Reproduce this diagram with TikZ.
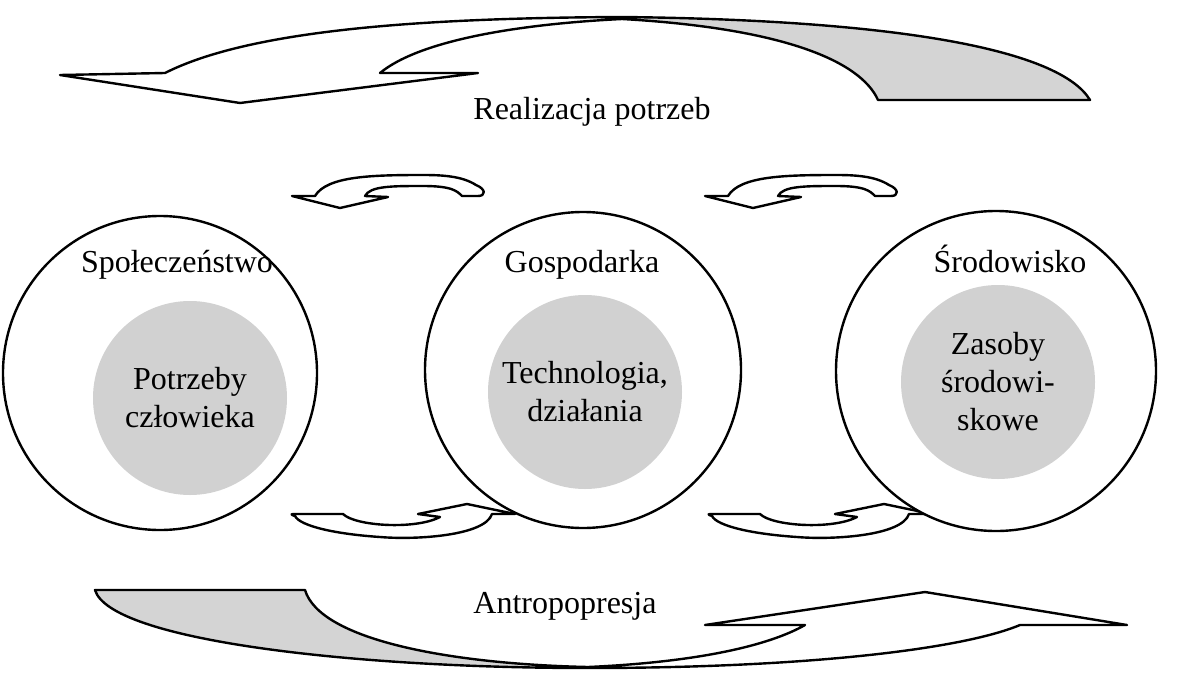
\documentclass[tikz,border=0pt]{standalone}
\usepackage{fontspec}
\setmainfont{Liberation Serif}
\begin{document}
\begin{tikzpicture}[x=1pt,y=-1pt,
  outline/.style={draw=black, line width=2.4pt, line join=round},
  shade/.style={fill=black!17},
  ring/.style={circle, draw=black, line width=2.4pt, fill=white, inner sep=0pt},
  core/.style={circle, fill=black!18, inner sep=0pt, minimum size=194pt},
  label/.style={font=\fontsize{32}{38}\selectfont, align=center, inner sep=0pt},
  smallup/.pic={
    % tail on the left, head pointing up-right
    \path[outline, fill=white]
      (0,0) .. controls (-6,-2) and (-4,-2) .. (4,-2) -- (48,-2)
      .. controls (60,10) and (120,14) .. (145,1) -- (123,-2)
      -- (172,-12) -- (220,-2) -- (197,-2)
      .. controls (190,20) and (120,24) .. (85,21)
      .. controls (40,18) and (5,10) .. (0,0) -- cycle;
  },
  smalldown/.pic={
    % head pointing down-left, short tail on the right
    \path[outline, fill=white]
      (0,0) -- (48,12) -- (96,1) -- (73,0)
      .. controls (78,-10) and (100,-10) .. (131,-10)
      .. controls (160,-10) and (165,-5) .. (170,0) -- (186,0)
      .. controls (194,0) and (194,-7) .. (184,-11)
      .. controls (170,-20) and (150,-21) .. (131,-21)
      .. controls (80,-21) and (35,-20) .. (23,0) -- cycle;
  }
]
\useasboundingbox (0,0) rectangle (1180,680);

% small connecting arrows between the rings
\pic at (295,516) {smallup};
\pic at (712,516) {smallup};
\pic at (292,196) {smalldown};
\pic at (705,196) {smalldown};

% outer rings
\node[ring, minimum size=314pt] (soc) at (160,373) {};
\node[ring, minimum size=316pt] (eco) at (583,370) {};
\node[ring, minimum size=320pt] (env) at (996,371) {};

% shaded cores
\node[core] (socin) at (190,398) {};
\node[core] (ecoin) at (585,392) {};
\node[core] (envin) at (998,382) {};

% labels
\node[label, anchor=base] (soct) at (177,272) {Społeczeństwo};
\node[label, anchor=base] (ecot) at (582,272) {Gospodarka};
\node[label, anchor=base] (envt) at (1010,272) {Środowisko};
\node[label] at (socin) {Potrzeby\\człowieka};
\node[label] at (ecoin) {Technologia,\\działania};
\node[label] at (envin) {Zasoby\\środowi-\\skowe};

\node[label] (top) at (592,112) {Realizacja potrzeb};
\node[label] (bot) at (565,606) {Antropopresja};

% upper sweep: shaded tail on the right, head pointing down on the left
\fill[shade] (622,17) .. controls (900,20) and (1060,50) .. (1090,100)
  -- (878,100) .. controls (860,60) and (780,28) .. (622,19) -- cycle;
\draw[outline]
  (60,75) -- (165,73) .. controls (250,30) and (420,18) .. (622,17)
  .. controls (900,20) and (1060,50) .. (1090,100)
  -- (878,100) .. controls (860,60) and (780,28) .. (622,19)
  .. controls (520,24) and (420,40) .. (380,73)
  -- (478,73) -- (240,103) -- cycle;

% lower sweep: shaded tail on the left, head pointing up on the right
\fill[shade] (95,590) -- (305,590) .. controls (320,640) and (450,664) .. (588,667)
  .. controls (350,668) and (110,640) .. (95,590) -- cycle;
\draw[outline]
  (95,590) -- (305,590) .. controls (320,640) and (450,664) .. (588,667)
  .. controls (700,662) and (770,645) .. (805,625)
  -- (705,625) -- (925,592) -- (1127,625) -- (1020,625)
  .. controls (960,650) and (800,668) .. (588,668)
  .. controls (350,668) and (110,640) .. (95,590) -- cycle;
\end{tikzpicture}
\end{document}
